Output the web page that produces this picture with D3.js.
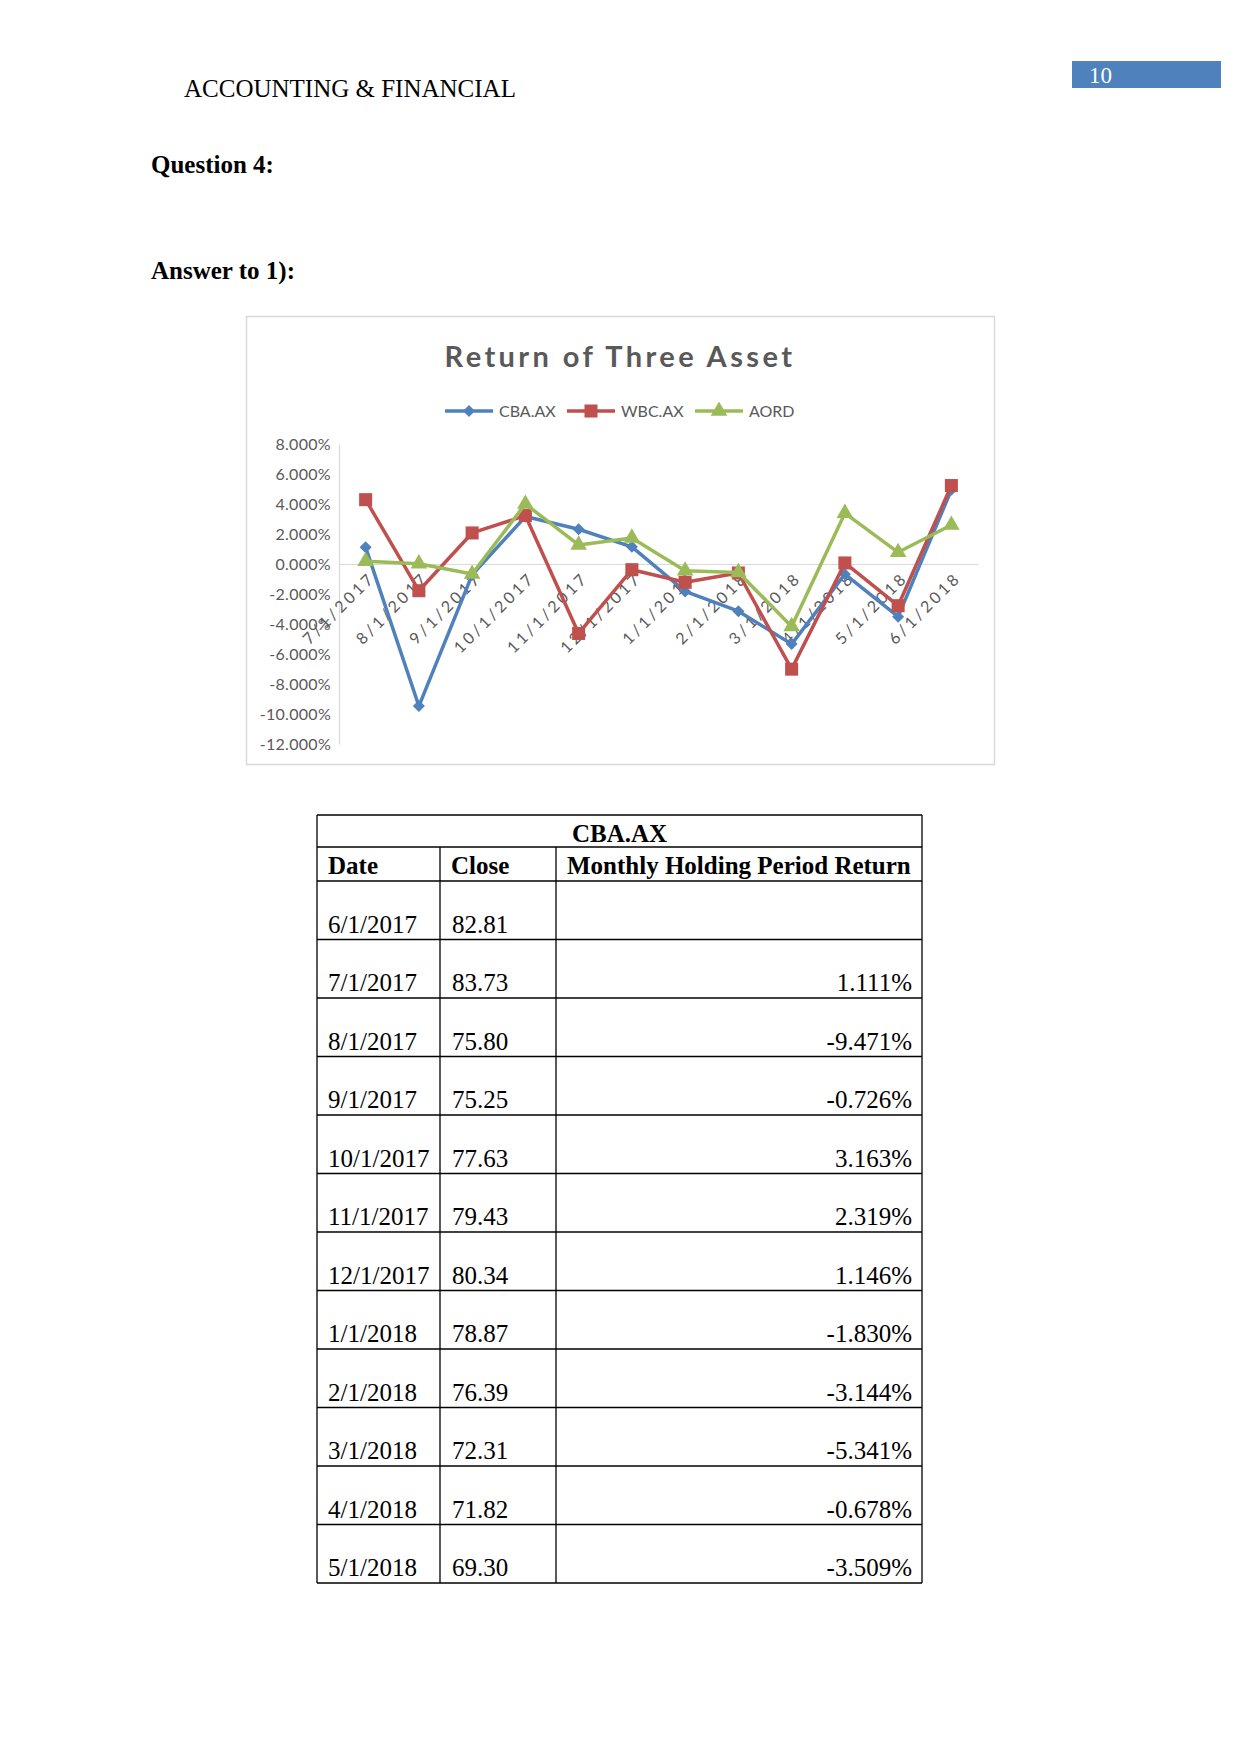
<!DOCTYPE html>
<html>
<head>
<meta charset="utf-8">
<script src="https://cdn.jsdelivr.net/npm/d3@7/dist/d3.min.js"></script>
<style>
  html, body { margin: 0; padding: 0; background: #fff; }
  svg { display: block; }
</style>
</head>
<body>
<svg id="page" width="1241" height="1754"></svg>
<script>
// ---------- DATA ----------
const categories = ["7/1/2017","8/1/2017","9/1/2017","10/1/2017","11/1/2017","12/1/2017",
                    "1/1/2018","2/1/2018","3/1/2018","4/1/2018","5/1/2018","6/1/2018"];
const cbaReturns  = [1.111, -9.471, -0.726, 3.163, 2.319, 1.146, -1.830, -3.144, -5.341, -0.678, -3.509, 4.95];
const wbcReturns  = [4.29, -1.78, 2.07, 3.23, -4.63, -0.38, -1.22, -0.60, -7.01, 0.07, -2.78, 5.23];
const aordReturns = [0.18, 0.02, -0.67, 4.00, 1.27, 1.74, -0.45, -0.56, -4.16, 3.39, 0.78, 2.60];
const seriesNames = ["CBA.AX", "WBC.AX", "AORD"];
const yTicks = [-12, -10, -8, -6, -4, -2, 0, 2, 4, 6, 8];

const tableTitle = "CBA.AX";
const tableHeaders = ["Date", "Close", "Monthly Holding Period Return"];
const tableDates = ["6/1/2017","7/1/2017","8/1/2017","9/1/2017","10/1/2017","11/1/2017",
                    "12/1/2017","1/1/2018","2/1/2018","3/1/2018","4/1/2018","5/1/2018"];
const tableCloses = ["82.81","83.73","75.80","75.25","77.63","79.43","80.34","78.87","76.39","72.31","71.82","69.30"];
const tableReturns = ["", "1.111%", "-9.471%", "-0.726%", "3.163%", "2.319%", "1.146%",
                      "-1.830%", "-3.144%", "-5.341%", "-0.678%", "-3.509%"];

// ---------- PAGE ----------
const svg = d3.select("#page");
const serif = "'Liberation Serif', 'Times New Roman', serif";
const sans = "Lato, 'Noto Sans', 'Open Sans', sans-serif";

// page number box
svg.append("rect").attr("x", 1072).attr("y", 61).attr("width", 149).attr("height", 27).attr("fill", "#4F81BD");
svg.append("text").attr("x", 1089).attr("y", 83).attr("font-family", serif).attr("font-size", 23)
   .attr("fill", "#fff").text("10");

svg.append("text").attr("x", 184).attr("y", 97).attr("font-family", serif).attr("font-size", 25)
   .attr("fill", "#000").text("ACCOUNTING & FINANCIAL");
svg.append("text").attr("x", 151).attr("y", 173).attr("font-family", serif).attr("font-size", 25)
   .attr("font-weight", "bold").attr("fill", "#000").text("Question 4:");
svg.append("text").attr("x", 151).attr("y", 279).attr("font-family", serif).attr("font-size", 25)
   .attr("font-weight", "bold").attr("fill", "#000").text("Answer to 1):");

// ---------- CHART ----------
const box = {x: 246, y: 316, w: 748, h: 448};
svg.append("rect").attr("x", box.x + 0.5).attr("y", box.y + 0.5).attr("width", box.w).attr("height", box.h)
   .attr("fill", "#fff").attr("stroke", "#D9D9D9").attr("stroke-width", 1.5);

svg.append("text").attr("x", 620).attr("y", 367).attr("text-anchor", "middle")
   .attr("font-family", sans).attr("font-size", 29).attr("font-weight", "bold")
   .attr("letter-spacing", 3.4).attr("fill", "#595959").text("Return of Three Asset");

const plot = {left: 339, right: 978, top: 444, bottom: 744};
const x = d3.scalePoint().domain(categories).range([plot.left, plot.right]).padding(0.5);
const y = d3.scaleLinear().domain([-12, 8]).range([plot.bottom, plot.top]);

// y axis
const yAxis = svg.append("g").attr("transform", `translate(${plot.left},0)`)
  .call(d3.axisLeft(y).tickValues(yTicks).tickSize(0).tickPadding(8)
        .tickFormat(d => (d < 0 ? "-" : "") + Math.abs(d).toFixed(3) + "%"));
yAxis.select(".domain").attr("stroke", "#D9D9D9").attr("stroke-width", 1.2);
yAxis.selectAll("text").attr("font-family", sans).attr("font-size", 16).attr("letter-spacing", 0.3)
  .attr("fill", "#595959");

// x axis at zero
const xAxis = svg.append("g").attr("transform", `translate(0,${y(0)})`)
  .call(d3.axisBottom(x).tickSize(0).tickPadding(0));
xAxis.select(".domain").attr("stroke", "#D9D9D9").attr("stroke-width", 1.2)
  .attr("d", `M${plot.left},0.5H${plot.right}`);
xAxis.selectAll("text").attr("font-family", sans).attr("font-size", 16).attr("fill", "#595959")
  .attr("letter-spacing", 3).attr("text-anchor", "end")
  .attr("x", 0).attr("y", 0).attr("dy", "0.35em")
  .attr("transform", "translate(6,11) rotate(-45)");

const colors = ["#4F81BD", "#C0504D", "#9BBB59"];
const data = [cbaReturns, wbcReturns, aordReturns];
const markerPaths = [
  d3.symbol().type(d3.symbolSquare).size(72)(),   // rotated -> diamond
  d3.symbol().type(d3.symbolSquare).size(170)(),
  d3.symbol().type(d3.symbolTriangle).size(120)()
];
const markerRot = [45, 0, 0];

const line = d3.line().x((d, i) => x(categories[i])).y(d => y(d));
data.forEach((vals, s) => {
  const g = svg.append("g");
  g.append("path").datum(vals).attr("d", line).attr("fill", "none")
   .attr("stroke", colors[s]).attr("stroke-width", 3.5).attr("stroke-linejoin", "round");
  g.selectAll("path.m").data(vals).join("path").attr("class", "m")
   .attr("d", markerPaths[s]).attr("fill", colors[s])
   .attr("transform", (d, i) => `translate(${x(categories[i])},${y(d)}) rotate(${markerRot[s]})`);
});

// legend
const legendItems = [{x0: 445, tx: 499}, {x0: 567, tx: 621}, {x0: 695, tx: 749}];
const ly = 411;
seriesNames.forEach((name, s) => {
  const li = legendItems[s];
  svg.append("line").attr("x1", li.x0).attr("x2", li.x0 + 48).attr("y1", ly).attr("y2", ly)
     .attr("stroke", colors[s]).attr("stroke-width", 3.5);
  svg.append("path").attr("d", markerPaths[s]).attr("fill", colors[s])
     .attr("transform", `translate(${li.x0 + 24},${ly}) rotate(${markerRot[s]})`);
  svg.append("text").attr("x", li.tx).attr("y", ly).attr("dy", "0.35em")
     .attr("font-family", sans).attr("font-size", 16).attr("fill", "#595959").text(name);
});

// ---------- TABLE ----------
const tLeft = 317, tRight = 922, colX = [317, 440, 556, 922];
const tTop = 815, titleBottom = 847, headBottom = 881, rowH = (1583 - 881) / 12;
const tg = svg.append("g").attr("font-family", serif).attr("font-size", 25).attr("fill", "#000");
const rowLines = [tTop, titleBottom, headBottom].concat(tableDates.map((d, i) => headBottom + rowH * (i + 1)));
tg.selectAll("line.h").data(rowLines).join("line").attr("class", "h")
  .attr("x1", tLeft).attr("x2", tRight).attr("y1", d => d).attr("y2", d => d)
  .attr("stroke", "#000").attr("stroke-width", 1.3);
tg.append("line").attr("x1", tLeft).attr("x2", tLeft).attr("y1", tTop).attr("y2", rowLines[rowLines.length - 1])
  .attr("stroke", "#000").attr("stroke-width", 1.3);
tg.append("line").attr("x1", tRight).attr("x2", tRight).attr("y1", tTop).attr("y2", rowLines[rowLines.length - 1])
  .attr("stroke", "#000").attr("stroke-width", 1.3);
[colX[1], colX[2]].forEach(cx => {
  tg.append("line").attr("x1", cx).attr("x2", cx).attr("y1", titleBottom).attr("y2", rowLines[rowLines.length - 1])
    .attr("stroke", "#000").attr("stroke-width", 1.3);
});
tg.append("text").attr("x", (tLeft + tRight) / 2).attr("y", 842).attr("text-anchor", "middle")
  .attr("font-weight", "bold").text(tableTitle);
tableHeaders.forEach((h, i) => {
  tg.append("text").attr("x", colX[i] + 11).attr("y", 874).attr("font-weight", "bold").text(h);
});
tableDates.forEach((d, i) => {
  const by = headBottom + rowH * (i + 1) - 7;
  tg.append("text").attr("x", colX[0] + 11).attr("y", by).text(d);
  tg.append("text").attr("x", colX[1] + 12).attr("y", by).text(tableCloses[i]);
  tg.append("text").attr("x", colX[3] - 10).attr("y", by).attr("text-anchor", "end").text(tableReturns[i]);
});
</script>
</body>
</html>
